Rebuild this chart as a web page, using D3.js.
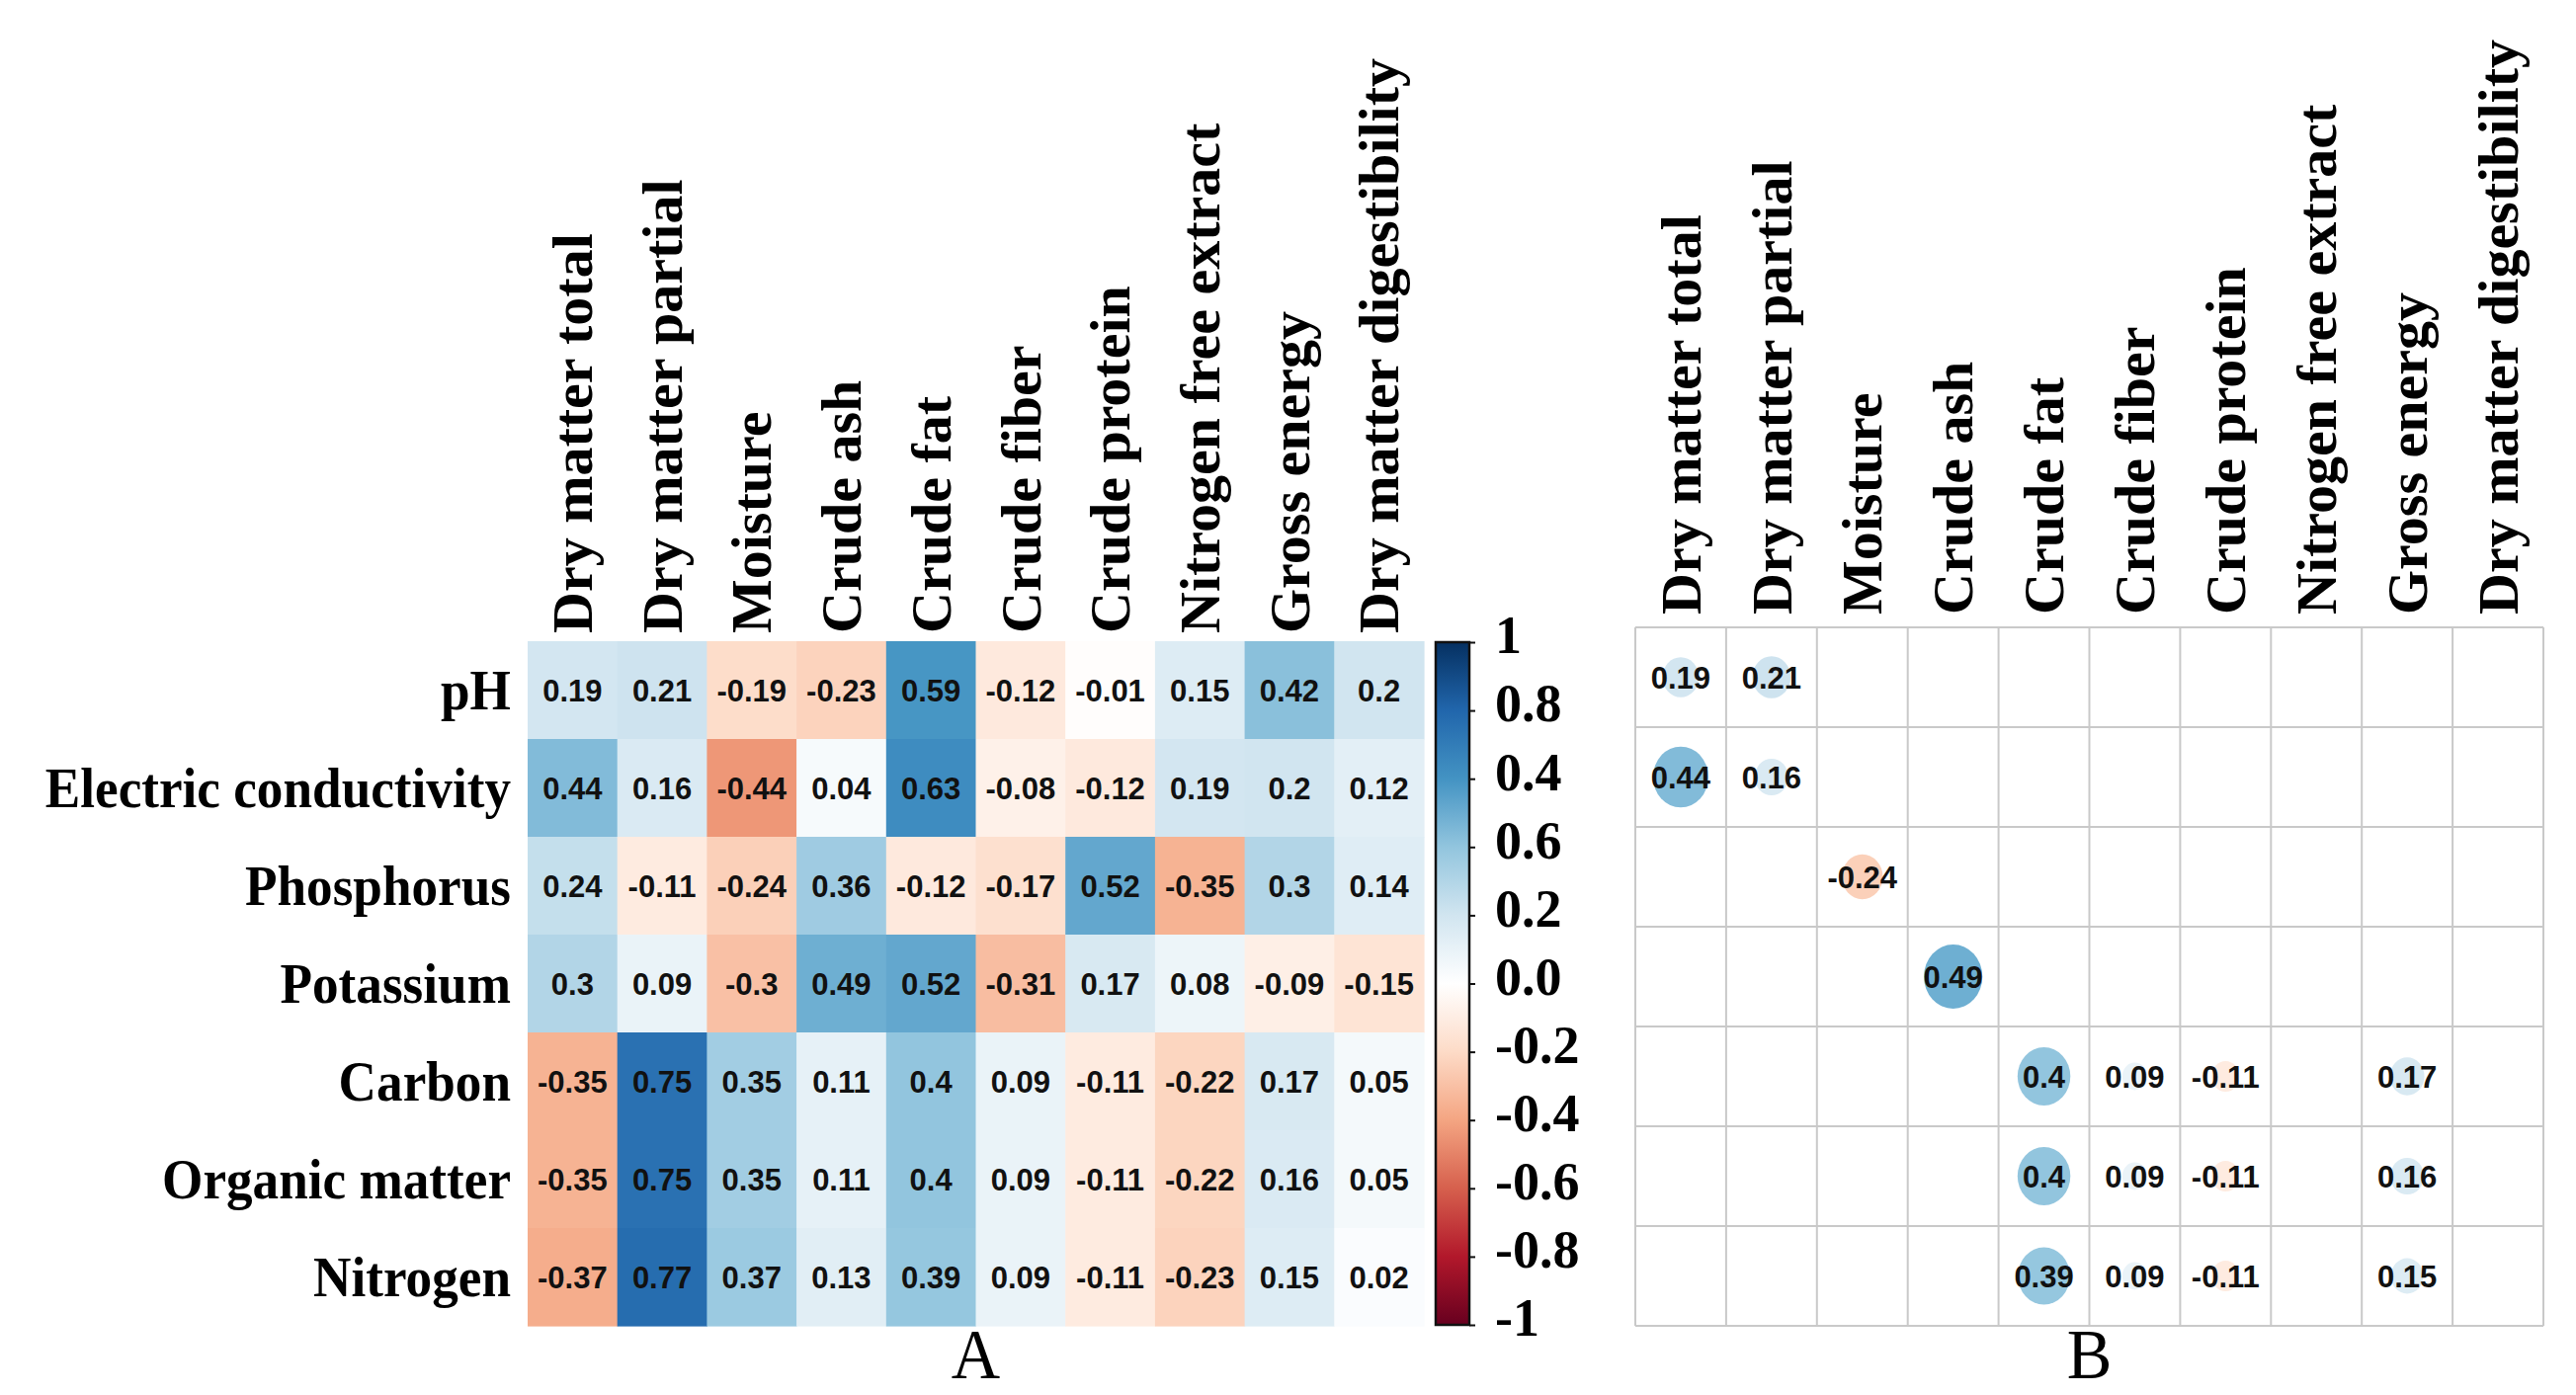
<!DOCTYPE html>
<html>
<head>
<meta charset="utf-8">
<script src="https://cdn.jsdelivr.net/npm/d3@7"></script>
<style>
  body { margin: 0; background: #ffffff; }
</style>
</head>
<body>
<svg id="chart" width="2607" height="1412"></svg>
<script>
// Feed quality variables (columns) and soil properties (rows)
const variables = [
  "Dry matter total", "Dry matter partial", "Moisture", "Crude ash", "Crude fat",
  "Crude fiber", "Crude protein", "Nitrogen free extract", "Gross energy",
  "Dry matter digestibility"
];
const soilProps = [
  "pH", "Electric conductivity", "Phosphorus", "Potassium",
  "Carbon", "Organic matter", "Nitrogen"
];

// Panel A: all correlation coefficients (rows follow soilProps, columns follow variables)
const corrAll = [
  [0.19, 0.21, -0.19, -0.23, 0.59, -0.12, -0.01, 0.15, 0.42, 0.2],
  [0.44, 0.16, -0.44, 0.04, 0.63, -0.08, -0.12, 0.19, 0.2, 0.12],
  [0.24, -0.11, -0.24, 0.36, -0.12, -0.17, 0.52, -0.35, 0.3, 0.14],
  [0.3, 0.09, -0.3, 0.49, 0.52, -0.31, 0.17, 0.08, -0.09, -0.15],
  [-0.35, 0.75, 0.35, 0.11, 0.4, 0.09, -0.11, -0.22, 0.17, 0.05],
  [-0.35, 0.75, 0.35, 0.11, 0.4, 0.09, -0.11, -0.22, 0.16, 0.05],
  [-0.37, 0.77, 0.37, 0.13, 0.39, 0.09, -0.11, -0.23, 0.15, 0.02]
];

// Panel B: retained coefficients only (null = blank cell)
const corrKept = [
  [0.19, 0.21, null, null, null, null, null, null, null, null],
  [0.44, 0.16, null, null, null, null, null, null, null, null],
  [null, null, -0.24, null, null, null, null, null, null, null],
  [null, null, null, 0.49, null, null, null, null, null, null],
  [null, null, null, null, 0.4, 0.09, -0.11, null, 0.17, null],
  [null, null, null, null, 0.4, 0.09, -0.11, null, 0.16, null],
  [null, null, null, null, 0.39, 0.09, -0.11, null, 0.15, null]
];

// Colour legend ticks and their printed labels
const legendTicks = [1, 0.8, 0.6, 0.4, 0.2, 0, -0.2, -0.4, -0.6, -0.8, -1];
const legendTickLabels = ["1", "0.8", "0.4", "0.6", "0.2", "0.0", "-0.2", "-0.4", "-0.6", "-0.8", "-1"];

// Diverging red-white-blue palette
const paletteDomain = [-1, -0.8, -0.6, -0.4, -0.2, 0, 0.2, 0.4, 0.6, 0.8, 1];
const paletteColors = ["#67001F", "#B2182B", "#D6604D", "#F4A582", "#FDDBC7", "#FFFFFF",
                       "#D1E5F0", "#92C5DE", "#4393C3", "#2166AC", "#053061"];

const svg = d3.select("#chart");
const color = d3.scaleLinear().domain(paletteDomain).range(paletteColors).interpolate(d3.interpolateRgb);

const serif = "'Liberation Serif','Times New Roman',serif";
const sans = "'Liberation Sans',Arial,sans-serif";
const labelSize = 58;
const valueSize = 31;
const squeeze = 0.95;
const fmt = v => String(v);

// ---------- Panel A: heatmap ----------
const xA = d3.scaleBand().domain(variables).range([534, 1441]);
const yA = d3.scaleBand().domain(soilProps).range([649, 1342]);

const cellsA = soilProps.flatMap((r, i) => variables.map((c, j) => ({ r, c, v: corrAll[i][j] })));
const gA = svg.append("g").attr("class", "panel-a");

gA.selectAll("rect.cell").data(cellsA).join("rect")
  .attr("class", "cell")
  .attr("x", d => xA(d.c))
  .attr("y", d => yA(d.r))
  .attr("width", xA.bandwidth() + 0.6)
  .attr("height", yA.bandwidth() + 0.6)
  .attr("fill", d => color(d.v));

gA.selectAll("text.val").data(cellsA).join("text")
  .attr("class", "val")
  .attr("x", d => xA(d.c) + xA.bandwidth() / 2)
  .attr("y", d => yA(d.r) + yA.bandwidth() / 2 + valueSize * 0.36)
  .attr("text-anchor", "middle")
  .attr("font-family", sans)
  .attr("font-weight", "bold")
  .attr("font-size", valueSize)
  .attr("fill", "#111")
  .text(d => fmt(d.v));

// Row labels
gA.selectAll("text.row").data(soilProps).join("text")
  .attr("class", "row")
  .attr("transform", d => `translate(517,${yA(d) + yA.bandwidth() / 2 + 19}) scale(${squeeze},1)`)
  .attr("text-anchor", "end")
  .attr("font-family", serif)
  .attr("font-weight", "bold")
  .attr("font-size", 56)
  .attr("fill", "#000")
  .text(d => d);

// Rotated column labels
function columnLabels(g, xs, startY) {
  g.selectAll("text.col").data(variables).join("text")
    .attr("class", "col")
    .attr("transform", d => `translate(${xs(d) + xs.bandwidth() / 2 + labelSize * 0.34},${startY}) rotate(-90)`)
    .attr("text-anchor", "start")
    .attr("font-family", serif)
    .attr("font-weight", "bold")
    .attr("font-size", labelSize)
    .attr("fill", "#000")
    .text(d => d);
}
columnLabels(gA, xA, 641);

// Colour legend
const yC = d3.scaleLinear().domain([-1, 1]).range([1341, 650]);
const defs = svg.append("defs");
const grad = defs.append("linearGradient").attr("id", "rdbu")
  .attr("x1", 0).attr("y1", 0).attr("x2", 0).attr("y2", 1);
// stops run top (+1) to bottom (-1), offsets increasing
grad.selectAll("stop").data(paletteDomain.slice().reverse()).join("stop")
  .attr("offset", d => (1 - d) / 2)
  .attr("stop-color", d => color(d));

const legendX0 = 1453, legendX1 = 1487;
svg.append("rect")
  .attr("x", legendX0).attr("y", yC(1))
  .attr("width", legendX1 - legendX0)
  .attr("height", yC(-1) - yC(1))
  .attr("fill", "url(#rdbu)")
  .attr("stroke", "#111")
  .attr("stroke-width", 2.5);

const legendAxis = svg.append("g")
  .attr("transform", `translate(${legendX1},0)`)
  .call(d3.axisRight(yC)
    .tickValues(legendTicks)
    .tickFormat((d, i) => legendTickLabels[i])
    .tickSize(6)
    .tickPadding(20));
legendAxis.select(".domain").remove();
legendAxis.selectAll(".tick line").attr("stroke", "#111").attr("stroke-width", 2);
legendAxis.selectAll(".tick text")
  .attr("font-family", serif)
  .attr("font-weight", "bold")
  .attr("font-size", 54)
  .attr("fill", "#000")
  .attr("dy", "0.2em");

// ---------- Panel B: circle matrix ----------
const xB = d3.scaleBand().domain(variables).range([1655, 2574]);
const yB = d3.scaleBand().domain(soilProps).range([635, 1342]);
const gB = svg.append("g").attr("class", "panel-b");

const gridX = variables.map(v => xB(v)).concat([xB.range()[1]]);
const gridY = soilProps.map(r => yB(r)).concat([yB.range()[1]]);
gB.selectAll("line.gx").data(gridX).join("line")
  .attr("class", "gx")
  .attr("x1", d => d).attr("x2", d => d)
  .attr("y1", yB.range()[0]).attr("y2", yB.range()[1])
  .attr("stroke", "#C9C9C9").attr("stroke-width", 2);
gB.selectAll("line.gy").data(gridY).join("line")
  .attr("class", "gy")
  .attr("y1", d => d).attr("y2", d => d)
  .attr("x1", xB.range()[0]).attr("x2", xB.range()[1])
  .attr("stroke", "#C9C9C9").attr("stroke-width", 2);

const cellsB = soilProps.flatMap((r, i) => variables.map((c, j) => ({ r, c, v: corrKept[i][j] })))
  .filter(d => d.v !== null);

gB.selectAll("ellipse").data(cellsB).join("ellipse")
  .attr("cx", d => xB(d.c) + xB.bandwidth() / 2)
  .attr("cy", d => yB(d.r) + yB.bandwidth() / 2)
  .attr("rx", d => 0.46 * Math.sqrt(Math.abs(d.v)) * xB.bandwidth())
  .attr("ry", d => 0.46 * Math.sqrt(Math.abs(d.v)) * yB.bandwidth())
  .attr("fill", d => color(d.v));

gB.selectAll("text.val").data(cellsB).join("text")
  .attr("class", "val")
  .attr("x", d => xB(d.c) + xB.bandwidth() / 2)
  .attr("y", d => yB(d.r) + yB.bandwidth() / 2 + valueSize * 0.36)
  .attr("text-anchor", "middle")
  .attr("font-family", sans)
  .attr("font-weight", "bold")
  .attr("font-size", valueSize)
  .attr("fill", "#111")
  .text(d => fmt(d.v));

columnLabels(gB, xB, 622);

// Panel letters
const panelLetters = [
  { text: "A", cx: (xA.range()[0] + xA.range()[1]) / 2 },
  { text: "B", cx: (xB.range()[0] + xB.range()[1]) / 2 }
];
svg.selectAll("text.letter").data(panelLetters).join("text")
  .attr("class", "letter")
  .attr("transform", d => `translate(${d.cx},1395) scale(${squeeze},1)`)
  .attr("text-anchor", "middle")
  .attr("font-family", serif)
  .attr("font-size", 72)
  .attr("fill", "#000")
  .text(d => d.text);
</script>
</body>
</html>
